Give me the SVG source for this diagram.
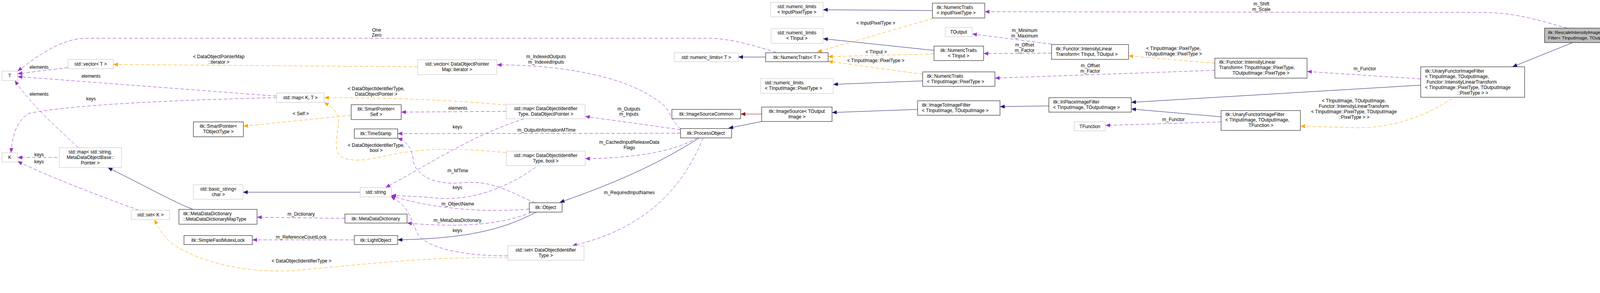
<svg xmlns="http://www.w3.org/2000/svg" width="4197" height="750" viewBox="0 0 4197 750">
<style>
text{font-family:"Liberation Sans",Arial,sans-serif;font-size:12px;fill:#000}
.m{text-anchor:middle}
.n rect{fill:#fff;stroke:#000;stroke-width:1}
.g rect{fill:#fff;stroke:#bfbfbf;stroke-width:1}
.e path{fill:none;stroke-width:1}
.nv{stroke:#191970}
.pu{stroke:#9a32cd;stroke-dasharray:9,5}
.or{stroke:#ffa500;stroke-dasharray:9,5}
.rd{stroke:#8b1a1a}
</style>
<defs>
<marker id="aN" viewBox="0 0 12 10" refX="12" refY="5" markerWidth="12" markerHeight="10" markerUnits="userSpaceOnUse" orient="auto"><path d="M0,0L12,5L0,10z" fill="#191970"/></marker>
<marker id="aP" viewBox="0 0 12 10" refX="12" refY="5" markerWidth="12" markerHeight="10" markerUnits="userSpaceOnUse" orient="auto"><path d="M0,0L12,5L0,10z" fill="#9a32cd"/></marker>
<marker id="aO" viewBox="0 0 12 10" refX="12" refY="5" markerWidth="12" markerHeight="10" markerUnits="userSpaceOnUse" orient="auto"><path d="M0,0L12,5L0,10z" fill="#ffa500"/></marker>
<marker id="aR" viewBox="0 0 12 10" refX="12" refY="5" markerWidth="12" markerHeight="10" markerUnits="userSpaceOnUse" orient="auto"><path d="M0,0L12,5L0,10z" fill="#8b1a1a"/></marker>
</defs>
<rect width="4197" height="750" fill="#fff"/>
<g id="connectors" class="e">
<path class="nv" marker-end="url(#aN)" d="M4026,109 L3872,171"/>
<path class="pu" marker-end="url(#aP)" d="M4012,72 C3950,55 3880,32 3800,32 L2521,30"/>
<path class="nv" marker-end="url(#aN)" d="M3637,218 L2896,262"/>
<path class="pu" marker-end="url(#aP)" d="M3637,202 L3346,183"/>
<path class="or" marker-end="url(#aO)" d="M3718,252 C3660,290 3580,326 3480,327 L3329,323"/>
<path class="nv" marker-end="url(#aN)" d="M3126,299 L2896,279"/>
<path class="pu" marker-end="url(#aP)" d="M3126,312 L2830,321"/>
<path class="nv" marker-end="url(#aN)" d="M2685,271 L2560,273"/>
<path class="nv" marker-end="url(#aN)" d="M2349,280 L2130,288"/>
<path class="rd" marker-end="url(#aR)" d="M1950,292 L1896,292"/>
<path class="nv" marker-end="url(#aN)" d="M1950,311 L1865,328"/>
<path class="or" marker-end="url(#aO)" d="M3110,162 L2889,143"/>
<path class="pu" marker-end="url(#aP)" d="M3110,180 L2547,200"/>
<path class="pu" marker-end="url(#aP)" d="M2692,113 L2489,87"/>
<path class="pu" marker-end="url(#aP)" d="M2692,136 L2518,137"/>
<path class="nv" marker-end="url(#aN)" d="M2387,27 L2107,25"/>
<path class="nv" marker-end="url(#aN)" d="M2391,129 L2107,99"/>
<path class="nv" marker-end="url(#aN)" d="M2362,207 L2133,216"/>
<path class="or" marker-end="url(#aO)" d="M2389,47 L2092,133"/>
<path class="or" marker-end="url(#aO)" d="M2391,138 L2120,145"/>
<path class="or" marker-end="url(#aO)" d="M2362,190 L2120,157"/>
<path class="nv" marker-end="url(#aN)" d="M1960,146 L1890,146"/>
<path class="pu" marker-end="url(#aP)" d="M1987,134 C1940,120 1880,100 1820,98 L220,98 C160,98 100,140 45,182"/>
<path class="pu" marker-end="url(#aP)" d="M1742,330 C1720,310 1712,280 1700,270 C1640,220 1550,190 1420,174 C1360,168 1320,166 1272,166"/>
<path class="pu" marker-end="url(#aP)" d="M1742,332 L1498,298"/>
<path class="pu" marker-end="url(#aP)" d="M1742,341 L1018,342"/>
<path class="pu" marker-end="url(#aP)" d="M1785,353 C1740,380 1650,405 1498,406"/>
<path class="nv" marker-end="url(#aN)" d="M1790,353 C1700,410 1600,460 1433,518"/>
<path class="pu" marker-end="url(#aP)" d="M1800,353 C1760,450 1680,580 1465,629"/>
<path class="or" marker-end="url(#aO)" d="M1069,171 L290,165"/>
<path class="or" marker-end="url(#aO)" d="M1296,269 C1150,255 980,250 830,250"/>
<path class="pu" marker-end="url(#aP)" d="M1296,285 L1027,287"/>
<path class="pu" marker-end="url(#aP)" d="M1342,304 C1200,350 1100,420 987,480"/>
<path class="or" marker-end="url(#aO)" d="M1296,391 C1200,380 1100,380 1050,388 C980,396 930,420 880,405 C850,390 863,360 867,310 C868,290 850,275 830,262"/>
<path class="pu" marker-end="url(#aP)" d="M1371,428 C1300,480 1200,520 1100,505 L1002,500"/>
<path class="pu" marker-end="url(#aP)" d="M1370,519 C1300,490 1260,460 1180,468 C1100,475 1060,440 1058,410 C1055,380 1040,360 1018,354"/>
<path class="pu" marker-end="url(#aP)" d="M1355,535 C1250,545 1100,535 1000,500"/>
<path class="pu" marker-end="url(#aP)" d="M1360,543 C1300,570 1200,585 1042,571"/>
<path class="nv" marker-end="url(#aN)" d="M1373,543 C1300,580 1220,610 1018,614"/>
<path class="pu" marker-end="url(#aP)" d="M1300,655 C1200,655 1100,640 1070,600 C1050,560 1050,530 1000,503"/>
<path class="or" marker-end="url(#aO)" d="M1300,660 C1100,655 900,680 750,693 C600,700 500,660 450,630 C420,610 410,590 395,562"/>
<path class="pu" marker-end="url(#aP)" d="M907,614 L646,614"/>
<path class="pu" marker-end="url(#aP)" d="M883,559 L658,556"/>
<path class="nv" marker-end="url(#aN)" d="M494,536 C440,515 380,480 276,429"/>
<path class="nv" marker-end="url(#aN)" d="M922,492 L622,492"/>
<path class="or" marker-end="url(#aO)" d="M899,295 L623,323"/>
<path class="pu" marker-end="url(#aP)" d="M200,378 C150,330 80,270 38,206"/>
<path class="pu" marker-end="url(#aP)" d="M147,403 L45,403"/>
<path class="pu" marker-end="url(#aP)" d="M355,538 C250,500 120,450 45,413"/>
<path class="pu" marker-end="url(#aP)" d="M174,173 L45,189"/>
<path class="pu" marker-end="url(#aP)" d="M708,246 L45,196"/>
<path class="pu" marker-end="url(#aP)" d="M708,250 C500,255 200,265 75,290 C40,310 32,350 28,391"/>
</g>
<g id="labels">
<text class="m" x="3229" y="14">m_Shift</text><text class="m" x="3229" y="28">m_Scale</text>
<text class="m" x="3494" y="180">m_Functor</text>
<text class="m" x="3466" y="262">&lt; TInputImage, TOutputImage,</text>
<text class="m" x="3466" y="276">Functor::IntensityLinearTransform</text>
<text class="m" x="3466" y="290">&lt; TInputImage::PixelType, TOutputImage</text>
<text class="m" x="3466" y="304">::PixelType &gt; &gt;</text>
<text class="m" x="3004" y="310">m_Functor</text>
<text class="m" x="3004" y="128">&lt; TInputImage::PixelType,</text>
<text class="m" x="3004" y="142">TOutputImage::PixelType &gt;</text>
<text class="m" x="2791" y="172">m_Offset</text><text class="m" x="2791" y="186">m_Factor</text>
<text class="m" x="2623" y="82">m_Minimum</text><text class="m" x="2623" y="96">m_Maximum</text>
<text class="m" x="2623" y="119">m_Offset</text><text class="m" x="2623" y="133">m_Factor</text>
<text class="m" x="2242" y="63">&lt; InputPixelType &gt;</text>
<text class="m" x="2243" y="137">&lt; TInput &gt;</text>
<text class="m" x="2242" y="159">&lt; TInputImage::PixelType &gt;</text>
<text class="m" x="964" y="81">One</text><text class="m" x="964" y="94">Zero</text>
<text class="m" x="1398" y="149">m_IndexedOutputs</text><text class="m" x="1398" y="163">m_IndexedInputs</text>
<text class="m" x="1610" y="283">m_Outputs</text><text class="m" x="1610" y="296">m_Inputs</text>
<text class="m" x="1399" y="337">m_OutputInformationMTime</text>
<text class="m" x="1611" y="368">m_CachedInputReleaseData</text><text class="m" x="1611" y="382">Flags</text>
<text class="m" x="1611" y="497">m_RequiredInputNames</text>
<text class="m" x="560" y="149">&lt; DataObjectPointerMap</text><text class="m" x="560" y="163">::iterator &gt;</text>
<text class="m" x="963" y="231">&lt; DataObjectIdentifierType,</text><text class="m" x="963" y="245">DataObjectPointer &gt;</text>
<text class="m" x="770" y="295">&lt; Self &gt;</text>
<text class="m" x="1172" y="281">elements</text>
<text class="m" x="1171" y="329">keys</text>
<text class="m" x="963" y="376">&lt; DataObjectIdentifierType,</text><text class="m" x="963" y="389">bool &gt;</text>
<text class="m" x="1172" y="441">m_MTime</text>
<text class="m" x="1171" y="484">keys</text>
<text class="m" x="1172" y="526">m_ObjectName</text>
<text class="m" x="1171" y="568">m_MetaDataDictionary</text>
<text class="m" x="1171" y="594">keys</text>
<text class="m" x="771" y="552">m_Dictionary</text>
<text class="m" x="771" y="611">m_ReferenceCountLock</text>
<text class="m" x="772" y="672">&lt; DataObjectIdentifierType &gt;</text>
<text class="m" x="100" y="176">elements</text>
<text class="m" x="233" y="199">elements</text>
<text class="m" x="100" y="245">elements</text>
<text class="m" x="233" y="257">keys</text>
<text class="m" x="100" y="400">keys</text>
<text class="m" x="100" y="418">keys</text>
</g>
<g id="n_rescale"><rect x="3954" y="72" width="238" height="37" fill="#bfbfbf" stroke="#000"/><text x="3963" y="87" style="font-size:11.5px">itk::RescaleIntensityImage</text><text x="3963" y="101" style="font-size:11.5px">Filter&lt; TInputImage, TOutputImage &gt;</text></g>
<g id="n_unaryBig" class="n"><rect x="3637" y="171" width="266" height="78"/><text x="3648" y="186">itk::UnaryFunctorImageFilter</text><text x="3648" y="200">&lt; TInputImage, TOutputImage,</text><text x="3652" y="214">Functor::IntensityLinearTransform</text><text x="3648" y="228">&lt; TInputImage::PixelType, TOutputImage</text><text class="m" x="3770" y="242">::PixelType &gt; &gt;</text></g>
<g id="n_linBig" class="n"><rect x="3110" y="149" width="236" height="51"/><text x="3121" y="163">itk::Functor::IntensityLinear</text><text x="3121" y="177">Transform&lt; TInputImage::PixelType,</text><text class="m" x="3228" y="191">TOutputImage::PixelType &gt;</text></g>
<g id="n_unaryT" class="n"><rect x="3126" y="283" width="203" height="51"/><text x="3137" y="297">itk::UnaryFunctorImageFilter</text><text x="3137" y="311">&lt; TInputImage, TOutputImage,</text><text class="m" x="3228" y="325">TFunction &gt;</text></g>
<g id="n_inplace" class="n"><rect x="2685" y="250" width="211" height="37"/><text x="2696" y="265">itk::InPlaceImageFilter</text><text x="2696" y="279">&lt; TInputImage, TOutputImage &gt;</text></g>
<g id="n_tfunction" class="g"><rect x="2750" y="312" width="80" height="23"/><text class="m" x="2790" y="328">TFunction</text></g>
<g id="n_linSmall" class="n"><rect x="2692" y="114" width="197" height="38"/><text x="2703" y="129">itk::Functor::IntensityLinear</text><text x="2703" y="143">Transform&lt; TInput, TOutput &gt;</text></g>
<g id="n_toutput" class="g"><rect x="2420" y="70" width="69" height="24"/><text class="m" x="2454" y="86">TOutput</text></g>
<g id="n_ntInputPixel" class="n"><rect x="2387" y="8" width="134" height="38"/><text x="2398" y="23">itk::NumericTraits</text><text x="2398" y="37">&lt; InputPixelType &gt;</text></g>
<g id="n_ntTInput" class="n"><rect x="2391" y="118" width="127" height="37"/><text class="m" x="2454" y="133">itk::NumericTraits</text><text class="m" x="2454" y="147">&lt; TInput &gt;</text></g>
<g id="n_ntPixel" class="n"><rect x="2362" y="184" width="185" height="37"/><text x="2373" y="199">itk::NumericTraits</text><text x="2373" y="213">&lt; TInputImage::PixelType &gt;</text></g>
<g id="n_i2i" class="n"><rect x="2349" y="258" width="211" height="37"/><text x="2360" y="273">itk::ImageToImageFilter</text><text x="2360" y="287">&lt; TInputImage, TOutputImage &gt;</text></g>
<g id="n_nlInputPixel" class="g"><rect x="1973" y="6" width="134" height="37"/><text class="m" x="2040" y="21">std::numeric_limits</text><text class="m" x="2040" y="35">&lt; InputPixelType &gt;</text></g>
<g id="n_nlTInput" class="g"><rect x="1974" y="73" width="133" height="38"/><text class="m" x="2040" y="88">std::numeric_limits</text><text class="m" x="2040" y="102">&lt; TInput &gt;</text></g>
<g id="n_nlT" class="g"><rect x="1726" y="135" width="164" height="23"/><text class="m" x="1808" y="151">std::numeric_limits&lt; T &gt;</text></g>
<g id="n_ntT" class="n"><rect x="1960" y="135" width="160" height="23"/><text class="m" x="2040" y="151">itk::NumericTraits&lt; T &gt;</text></g>
<g id="n_nlPixel" class="g"><rect x="1947" y="201" width="186" height="38"/><text x="1958" y="216">std::numeric_limits</text><text x="1958" y="230">&lt; TInputImage::PixelType &gt;</text></g>
<g id="n_isc" class="n"><rect x="1720" y="280" width="176" height="24"/><text class="m" x="1808" y="296">itk::ImageSourceCommon</text></g>
<g id="n_is" class="n"><rect x="1950" y="274" width="180" height="37"/><text class="m" x="2040" y="289">itk::ImageSource&lt; TOutput</text><text class="m" x="2040" y="303">Image &gt;</text></g>
<g id="n_po" class="n"><rect x="1742" y="329" width="131" height="24"/><text class="m" x="1807" y="345">itk::ProcessObject</text></g>
<g id="n_vecIter" class="g"><rect x="1069" y="153" width="203" height="38"/><text class="m" x="1170" y="168">std::vector&lt; DataObjectPointer</text><text class="m" x="1170" y="182">Map::iterator &gt;</text></g>
<g id="n_mapPtr" class="g"><rect x="1296" y="267" width="202" height="37"/><text class="m" x="1397" y="282">std::map&lt; DataObjectIdentifier</text><text class="m" x="1397" y="296">Type, DataObjectPointer &gt;</text></g>
<g id="n_mapBool" class="g"><rect x="1296" y="387" width="202" height="37"/><text class="m" x="1397" y="402">std::map&lt; DataObjectIdentifier</text><text class="m" x="1397" y="416">Type, bool &gt;</text></g>
<g id="n_setId" class="g"><rect x="1300" y="629" width="195" height="37"/><text class="m" x="1397" y="644">std::set&lt; DataObjectIdentifier</text><text class="m" x="1397" y="658">Type &gt;</text></g>
<g id="n_object" class="n"><rect x="1355" y="519" width="84" height="24"/><text class="m" x="1397" y="535">itk::Object</text></g>
<g id="n_mapKT" class="g"><rect x="708" y="238" width="122" height="24"/><text class="m" x="769" y="254">std::map&lt; K, T &gt;</text></g>
<g id="n_spSelf" class="n"><rect x="899" y="268" width="128" height="38"/><text class="m" x="963" y="283">itk::SmartPointer&lt;</text><text class="m" x="963" y="297">Self &gt;</text></g>
<g id="n_ts" class="n"><rect x="907" y="330" width="111" height="24"/><text class="m" x="962" y="346">itk::TimeStamp</text></g>
<g id="n_string" class="g"><rect x="922" y="480" width="80" height="24"/><text class="m" x="962" y="496">std::string</text></g>
<g id="n_mdd" class="n"><rect x="883" y="548" width="159" height="23"/><text class="m" x="962" y="564">itk::MetaDataDictionary</text></g>
<g id="n_lo" class="n"><rect x="907" y="603" width="111" height="23"/><text class="m" x="962" y="619">itk::LightObject</text></g>
<g id="n_vecT" class="g"><rect x="174" y="152" width="116" height="24"/><text class="m" x="232" y="168">std::vector&lt; T &gt;</text></g>
<g id="n_T" class="g"><rect x="5" y="182" width="40" height="24"/><text class="m" x="25" y="198">T</text></g>
<g id="n_K" class="g"><rect x="5" y="391" width="40" height="24"/><text class="m" x="25" y="407">K</text></g>
<g id="n_spObj" class="n"><rect x="495" y="312" width="128" height="38"/><text class="m" x="559" y="327">itk::SmartPointer&lt;</text><text class="m" x="559" y="341">TObjectType &gt;</text></g>
<g id="n_mapStr" class="g"><rect x="152" y="378" width="159" height="51"/><text class="m" x="231" y="393">std::map&lt; std::string,</text><text class="m" x="231" y="407">MetaDataObjectBase::</text><text class="m" x="231" y="421">Pointer &gt;</text></g>
<g id="n_bstr" class="g"><rect x="495" y="473" width="127" height="37"/><text class="m" x="559" y="488">std::basic_string&lt;</text><text class="m" x="559" y="502">char &gt;</text></g>
<g id="n_setK" class="g"><rect x="336" y="538" width="98" height="24"/><text class="m" x="385" y="554">std::set&lt; K &gt;</text></g>
<g id="n_mddmt" class="n"><rect x="458" y="536" width="200" height="38"/><text x="469" y="551">itk::MetaDataDictionary</text><text x="469" y="565">::MetaDataDictionaryMapType</text></g>
<g id="n_sfml" class="n"><rect x="471" y="603" width="175" height="23"/><text class="m" x="558" y="619">itk::SimpleFastMutexLock</text></g>
</svg>
